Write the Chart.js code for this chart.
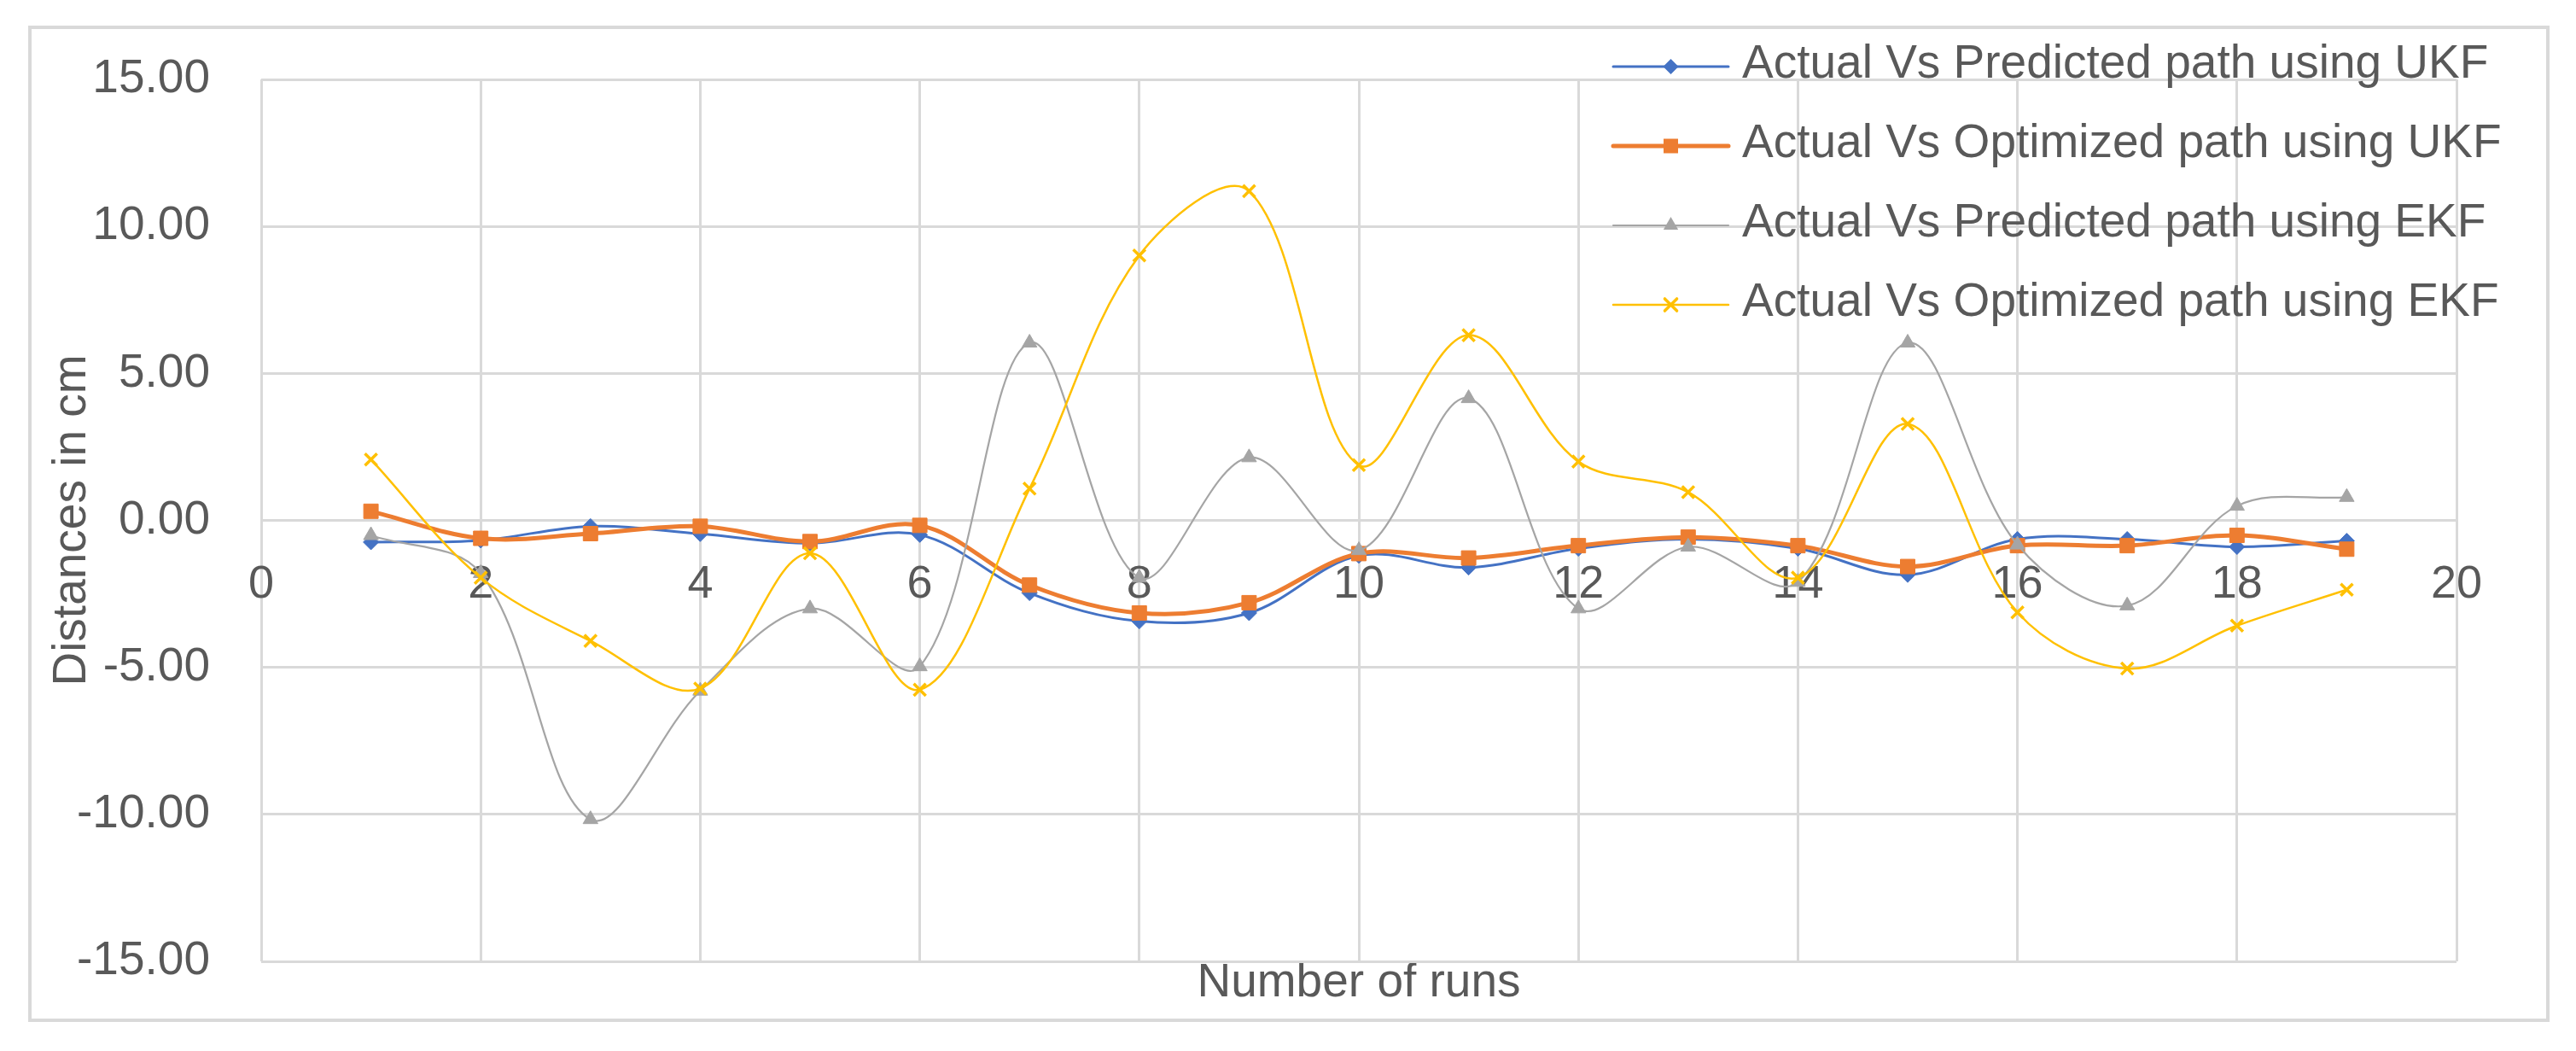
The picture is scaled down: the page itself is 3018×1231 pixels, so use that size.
<!DOCTYPE html>
<html>
<head>
<meta charset="utf-8">
<title>Distances in cm</title>
<script src="https://cdn.jsdelivr.net/npm/chart.js@4.4.1/dist/chart.umd.min.js"></script>
<style>
    html, body { margin: 0; padding: 0; background: #ffffff; }
    #wrap { position: relative; width: 3018px; height: 1231px; }
</style>
</head>
<body>
<div id="wrap"><canvas id="distanceChart"></canvas></div>
<script>
// run numbers on the x axis
const runs = [1, 2, 3, 4, 5, 6, 7, 8, 9, 10, 11, 12, 13, 14, 15, 16, 17, 18, 19];

// distances in cm
const predictedUKF = [-0.74, -0.68, -0.20, -0.46, -0.78, -0.49, -2.47, -3.43, -3.15, -1.20,
    -1.60, -0.96, -0.64, -0.96, -1.85, -0.64, -0.64, -0.90, -0.70];
const optimizedUKF = [0.31, -0.61, -0.45, -0.20, -0.72, -0.17, -2.20, -3.15, -2.80, -1.13,
    -1.28, -0.86, -0.57, -0.86, -1.57, -0.86, -0.86, -0.51, -0.98];
const predictedEKF = [-0.51, -1.80, -10.17, -5.80, -3.00, -4.97, 6.04, -1.95, 2.14, -1.02,
    4.15, -3.00, -0.90, -2.10, 6.04, -0.83, -2.90, 0.49, 0.79];
const optimizedEKF = [2.07, -1.95, -4.10, -5.72, -1.12, -5.76, 1.08, 9.01, 11.20, 1.88,
    6.30, 2.00, 0.96, -1.95, 3.28, -3.13, -5.04, -3.58, -2.36];

const seriesLabels = [
    'Actual Vs Predicted path using UKF',
    'Actual Vs Optimized path using UKF',
    'Actual Vs Predicted path using EKF',
    'Actual Vs Optimized path using EKF'
];

// axis ranges / tick steps
const xRange = [0, 20];
const xStep = 2;
const yRange = [-15, 15];
const yStep = 5;

const textColor = '#595959';
const gridColor = '#d9d9d9';
const fontFamily = '"Liberation Sans", Arial, sans-serif';

Chart.defaults.font.family = fontFamily;
Chart.defaults.color = textColor;

function toPoints(values) {
    return runs.map((r, i) => ({ x: r, y: values[i] }));
}

// small marker painter for the legend, same shapes as the data points
function drawMarker(ctx, style, x, y, r, color, width) {
    ctx.save();
    ctx.fillStyle = color;
    ctx.strokeStyle = color;
    ctx.lineWidth = width;
    ctx.beginPath();
    if (style === 'rectRot') {
        ctx.moveTo(x, y - r); ctx.lineTo(x + r, y); ctx.lineTo(x, y + r); ctx.lineTo(x - r, y);
        ctx.closePath(); ctx.fill();
    } else if (style === 'rect') {
        const s = r * Math.SQRT1_2;
        ctx.rect(x - s, y - s, 2 * s, 2 * s); ctx.fill();
    } else if (style === 'triangle') {
        ctx.moveTo(x, y - r);
        ctx.lineTo(x + r * Math.sin(Math.PI * 2 / 3), y + r * 0.5);
        ctx.lineTo(x - r * Math.sin(Math.PI * 2 / 3), y + r * 0.5);
        ctx.closePath(); ctx.fill();
    } else if (style === 'crossRot') {
        const d = r * Math.SQRT1_2;
        ctx.moveTo(x - d, y - d); ctx.lineTo(x + d, y + d);
        ctx.moveTo(x - d, y + d); ctx.lineTo(x + d, y - d);
        ctx.stroke();
    }
    ctx.restore();
}

// Excel style legend laid over the top right of the plot
const overlayLegend = {
    id: 'overlayLegend',
    afterDraw(chart, args, opts) {
        const ctx = chart.ctx;
        ctx.save();
        chart.data.datasets.forEach((ds, i) => {
            const y = opts.top + i * opts.rowHeight;
            ctx.strokeStyle = ds.borderColor;
            ctx.lineWidth = ds.borderWidth;
            ctx.lineCap = 'round';
            ctx.beginPath();
            ctx.moveTo(opts.left, y);
            ctx.lineTo(opts.left + opts.lineLength, y);
            ctx.stroke();
            drawMarker(ctx, ds.pointStyle, opts.left + opts.lineLength / 2, y,
                ds.pointRadius, ds.pointBackgroundColor, ds.pointBorderWidth);
            ctx.fillStyle = textColor;
            ctx.font = opts.fontSize + 'px ' + fontFamily;
            ctx.textBaseline = 'middle';
            ctx.textAlign = 'left';
            ctx.fillText(ds.label, opts.left + opts.lineLength + opts.gap, y - 2);
        });
        ctx.restore();
    }
};

// light grey frame round the whole chart
const chartFrame = {
    id: 'chartFrame',
    beforeDraw(chart, args, opts) {
        const ctx = chart.ctx;
        ctx.save();
        ctx.fillStyle = '#ffffff';
        ctx.fillRect(0, 0, chart.width, chart.height);
        ctx.strokeStyle = gridColor;
        ctx.lineWidth = 4;
        ctx.strokeRect(opts.left, opts.top, opts.right - opts.left, opts.bottom - opts.top);
        ctx.restore();
    }
};

const ctx = document.getElementById('distanceChart').getContext('2d');

new Chart(ctx, {
    type: 'line',
    data: {
        datasets: [
            {
                label: seriesLabels[0],
                data: toPoints(predictedUKF),
                borderColor: '#4472c4',
                backgroundColor: '#4472c4',
                borderWidth: 3,
                pointStyle: 'rectRot',
                pointRadius: 9,
                pointBackgroundColor: '#4472c4',
                pointBorderColor: '#4472c4',
                pointBorderWidth: 1,
                order: 4
            },
            {
                label: seriesLabels[1],
                data: toPoints(optimizedUKF),
                borderColor: '#ed7d31',
                backgroundColor: '#ed7d31',
                borderWidth: 5,
                pointStyle: 'rect',
                pointRadius: 12,
                pointBackgroundColor: '#ed7d31',
                pointBorderColor: '#ed7d31',
                pointBorderWidth: 1,
                order: 3
            },
            {
                label: seriesLabels[2],
                data: toPoints(predictedEKF),
                borderColor: '#a5a5a5',
                backgroundColor: '#a5a5a5',
                borderWidth: 2.2,
                pointStyle: 'triangle',
                pointRadius: 10,
                pointBackgroundColor: '#a5a5a5',
                pointBorderColor: '#a5a5a5',
                pointBorderWidth: 1,
                order: 2
            },
            {
                label: seriesLabels[3],
                data: toPoints(optimizedEKF),
                borderColor: '#ffc000',
                backgroundColor: '#ffc000',
                borderWidth: 2.5,
                pointStyle: 'crossRot',
                pointRadius: 10,
                pointBackgroundColor: '#ffc000',
                pointBorderColor: '#ffc000',
                pointBorderWidth: 3.5,
                order: 1
            }
        ]
    },
    options: {
        responsive: true,
        maintainAspectRatio: false,
        animation: false,
        tension: 0.35,
        layout: {
            padding: { top: 78, right: 140, bottom: 46, left: 0 }
        },
        scales: {
            x: {
                type: 'linear',
                min: xRange[0],
                max: xRange[1],
                position: 'bottom',
                ticks: { display: false, stepSize: xStep },
                grid: { color: gridColor, lineWidth: 3, drawTicks: false },
                border: { display: false },
                title: {
                    display: true,
                    text: 'Number of runs',
                    font: { size: 55 },
                    padding: 0
                },
                afterFit(scale) { scale.height = 59; }
            },
            xl: {
                type: 'linear',
                axis: 'x',
                min: xRange[0],
                max: xRange[1],
                position: { y: 0 },
                ticks: { stepSize: xStep, padding: 43, font: { size: 54 } },
                grid: { display: false, drawTicks: false },
                border: { display: false }
            },
            y: {
                type: 'linear',
                min: yRange[0],
                max: yRange[1],
                ticks: {
                    stepSize: yStep,
                    padding: 60,
                    font: { size: 55 },
                    callback: v => v.toFixed(2)
                },
                grid: { color: gridColor, lineWidth: 3, drawTicks: false },
                border: { display: false },
                title: {
                    display: true,
                    text: 'Distances in cm',
                    font: { size: 55 },
                    padding: { top: 52, bottom: 0 }
                },
                afterFit(scale) { scale.width = 306; }
            }
        },
        plugins: {
            legend: { display: false },
            tooltip: { enabled: false },
            overlayLegend: { left: 1890, top: 78, rowHeight: 93, lineLength: 135, gap: 16, fontSize: 55 },
            chartFrame: { left: 35, top: 32, right: 2985, bottom: 1195 }
        }
    },
    plugins: [chartFrame, overlayLegend]
});
</script>
</body>
</html>
